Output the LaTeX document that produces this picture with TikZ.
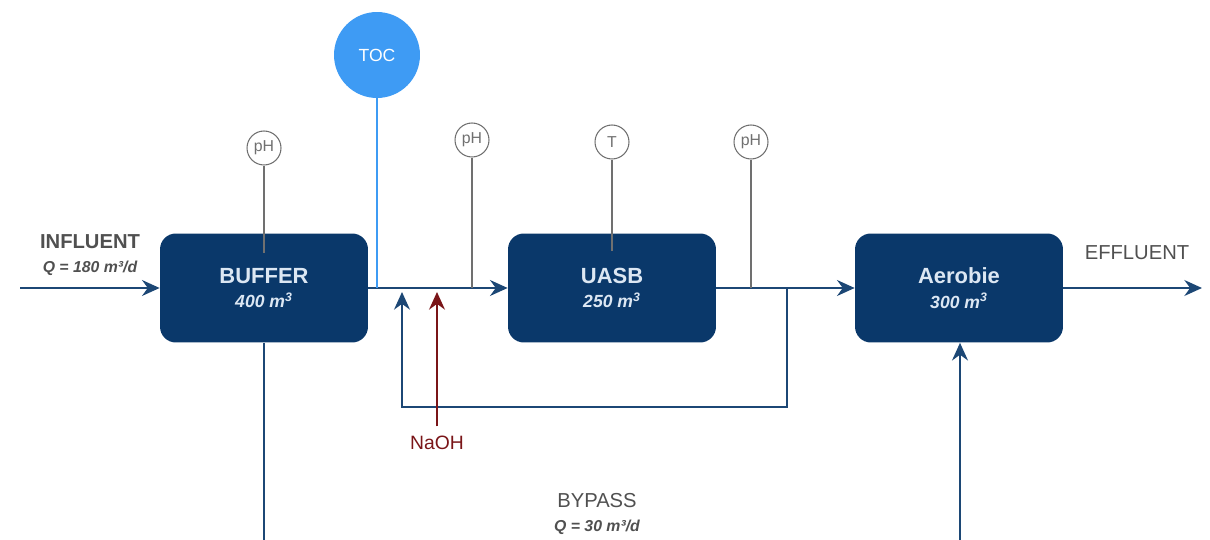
\documentclass[tikz,border=0pt]{standalone}
\usepackage{fontspec}
\setmainfont{Liberation Sans}
\usetikzlibrary{arrows.meta,positioning}
\definecolor{TankNavy}{HTML}{0A386A}
\definecolor{PipeNavy}{HTML}{1C4775}
\definecolor{TankText}{HTML}{DCE7F3}
\definecolor{SensorGrey}{HTML}{707070}
\definecolor{TocBlue}{HTML}{3E9BF4}
\definecolor{NaohRed}{HTML}{7A1518}
\definecolor{LabelGrey}{HTML}{505050}
\newcommand{\fsize}[1]{\fontsize{#1}{1.2\dimexpr#1\relax}\selectfont}

\tikzset{
  tank/.style={
    rounded corners=9pt,
    fill=TankNavy,
    text=TankText,
    minimum width=4.16cm,
    minimum height=2.18cm,
    align=center,
    font=\fsize{12.5pt}\bfseries
  },
  pipe/.style={
    draw=PipeNavy,
    line width=1.5pt,
    -{Stealth[length=10pt,width=9pt]}
  },
  sensor/.style={
    circle,
    draw=SensorGrey,
    line width=0.6pt,
    fill=white,
    minimum size=0.68cm,
    inner sep=0pt,
    text=SensorGrey,
    font=\fsize{9pt}
  },
  sensorline/.style={draw=SensorGrey, line width=0.6pt},
  streamlabel/.style={text=LabelGrey, align=center}
}

\begin{document}
\begin{tikzpicture}[x=0.02cm, y=-0.02cm]
  \useasboundingbox (0,0) rectangle (1210,540);

  % tanks
  \node[tank] (buffer) at (264,288) {BUFFER\\[-1pt]{\fsize{10pt}\itshape 400 m\textsuperscript{3}}};
  \node[tank] (uasb) at (612,288) {UASB\\[-1pt]{\fsize{10pt}\itshape 250 m\textsuperscript{3}}};
  \node[tank] (aerobie) at (959,288) {Aerobie\\[-1pt]{\fsize{10pt}\itshape 300 m\textsuperscript{3}}};

  % sensors
  \node[circle, fill=TocBlue, minimum size=1.72cm, inner sep=0pt,
        text=white, font=\fsize{10pt}] (toc) at (377,55) {TOC};
  \node[sensor] (phBuffer) at (264,148) {pH};
  \node[sensor] (phFeed) at (472,140) {pH};
  \node[sensor] (tUasb) at (612,142) {T};
  \node[sensor] (phOut) at (751,142) {pH};

  % free pipe ends
  \coordinate (inflow) at (20,288);
  \coordinate (outflow) at (1202,288);
  \coordinate (rcTake) at (787,288);
  \coordinate (rcBack) at (402,292);
  \coordinate (bpOut) at (264,540);
  \coordinate (bpIn) at (960,540);

  % main line
  \draw[pipe] (inflow) -- (buffer.west);
  \draw[pipe] (buffer.east) -- (uasb.west);
  \draw[pipe] (uasb.east) -- (aerobie.west);
  \draw[pipe] (aerobie.east) -- (outflow);

  % recycle and bypass
  \draw[pipe] (rcTake) -- (787,407) -| (rcBack);
  \draw[pipe, -] (buffer.south) -- (bpOut);
  \draw[pipe] (bpIn) -- (bpIn |- aerobie.south);

  % measurement taps
  \draw[draw=TocBlue, line width=1.3pt] (toc.south) -- (toc.south |- buffer.east);
  \draw[sensorline] (phBuffer.south) -- ([yshift=-0.4cm]buffer.north);
  \draw[sensorline] (phFeed.south) -- (phFeed.south |- buffer.east);
  \draw[sensorline] (tUasb.south) -- ([yshift=-0.35cm]uasb.north);
  \draw[sensorline] (phOut.south) -- (phOut.south |- uasb.east);

  % dosing
  \node[text=NaohRed, font=\fsize{11pt}, inner sep=2pt] (naoh) at (437,443) {NaOH};
  \draw[draw=NaohRed, line width=1.5pt, -{Stealth[length=10pt,width=9pt]}]
    ([yshift=0.12cm]naoh.north) -- (naoh.north |- rcBack);

  % stream labels
  \node[streamlabel] (influent) at (90,255)
    {{\fsize{11.5pt}\bfseries INFLUENT}\\[2pt]{\fsize{9pt}\bfseries\itshape Q = 180 m³/d}};
  \node[streamlabel, font=\fsize{11.5pt}] (effluent) at (1137,253) {EFFLUENT};
  \node[streamlabel] (bypass) at (597,514)
    {{\fsize{11.5pt}BYPASS}\\[2pt]{\fsize{9pt}\bfseries\itshape Q = 30 m³/d}};
\end{tikzpicture}
\end{document}
